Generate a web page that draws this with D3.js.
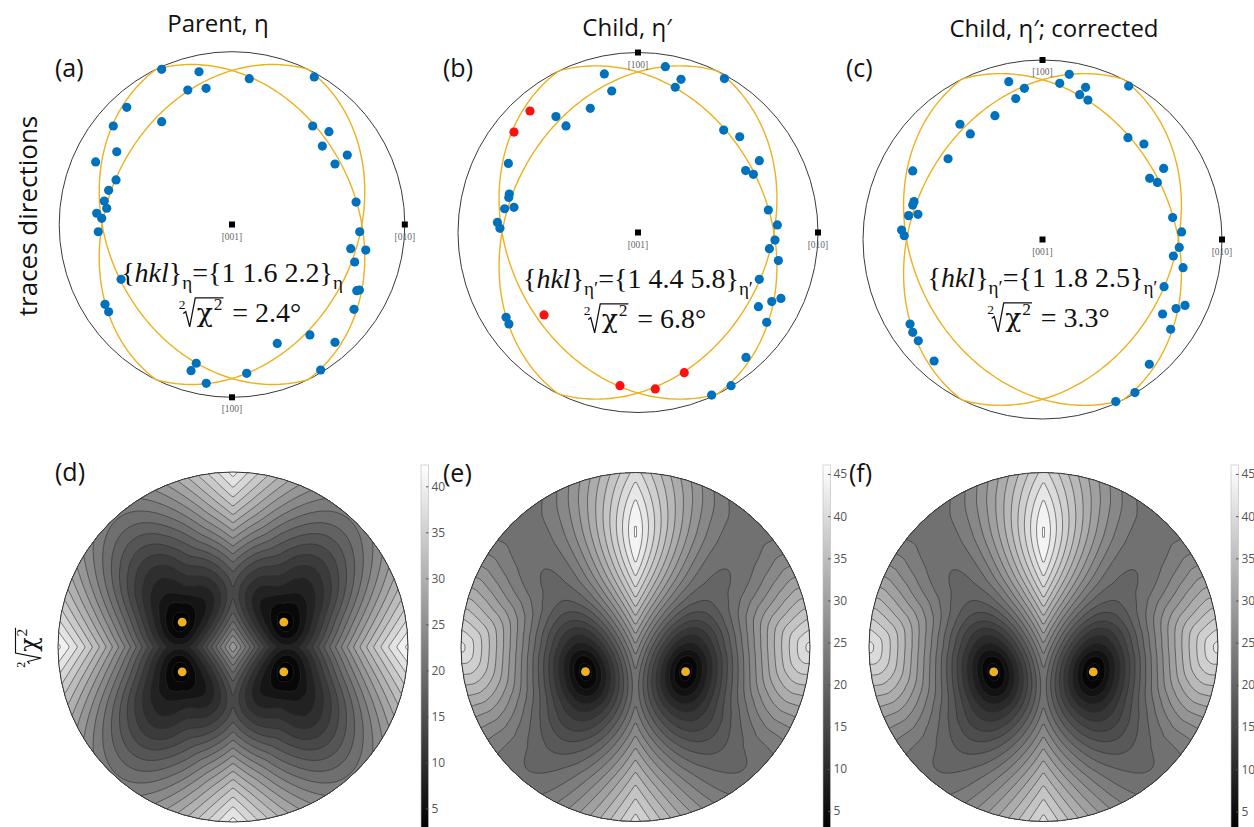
<!DOCTYPE html>
<html>
<head>
<meta charset="utf-8">
<script src="https://cdn.jsdelivr.net/npm/d3@7"></script>
<style>
  body { margin: 0; background: #fff; }
  text { white-space: pre; }
</style>
</head>
<body>
<div id="fig"></div>
<script>
//==========================================================
// data: trace directions
// each pair = position in the pole figure [screen right, screen down], unit circle
const parentTraces = [
  [-0.407,-0.898],[-0.191,-0.884],[0.100,-0.844],[0.476,-0.854],[-0.256,-0.778],[-0.150,-0.788],
  [-0.609,-0.678],[-0.407,-0.595],[-0.687,-0.570],[0.467,-0.570],[0.561,-0.537],[0.523,-0.454],
  [-0.667,-0.421],[0.667,-0.402],[-0.789,-0.362],[0.596,-0.350],[-0.671,-0.258],[-0.714,-0.198],
  [-0.739,-0.136],[-0.725,-0.094],[0.718,-0.130],[-0.783,-0.065],[-0.754,-0.036],[-0.774,0.042],
  [0.739,0.042],[0.687,0.140],[0.774,0.148],[0.710,0.217],[-0.642,0.317],[0.722,0.383],
  [0.737,0.379],[-0.735,0.462],[0.706,0.491],[-0.714,0.505],[0.451,0.639],[0.262,0.688],
  [0.596,0.682],[-0.207,0.803],[-0.237,0.846],[0.085,0.861],[0.513,0.842],[-0.149,0.919]
];
const childTraces = [
  [-0.187,-0.881],[-0.146,-0.786],[0.152,-0.921],[0.239,-0.851],[0.207,-0.807],[0.480,-0.855],
  [-0.265,-0.690],[-0.456,-0.644],[-0.400,-0.592],[0.476,-0.569],[0.565,-0.532],[0.674,-0.399],
  [0.598,-0.344],[0.641,-0.323],[-0.720,-0.384],[-0.715,-0.214],[-0.718,-0.195],[-0.741,-0.132],
  [-0.689,-0.140],[0.724,-0.125],[0.774,-0.042],[0.761,0.042],[0.730,0.090],[0.780,0.156],
  [-0.781,-0.056],[-0.767,-0.023],[0.674,0.260],[0.669,0.412],[0.743,0.384],[0.794,0.366],
  [0.715,0.499],[-0.733,0.471],[-0.717,0.508],[0.600,0.694],[0.517,0.851],[0.409,0.903]
];
// the red ones in (b)
const childOutliers = [
  [-0.600,-0.675],[-0.689,-0.558],[-0.522,0.458],[-0.100,0.851],[0.096,0.869],[0.257,0.779]
];
const correctedTraces = [
  [-0.188,-0.879],[-0.101,-0.842],[-0.149,-0.785],[0.096,-0.870],[0.149,-0.920],[0.240,-0.848],
  [0.207,-0.807],[0.253,-0.777],[0.480,-0.855],[-0.265,-0.690],[-0.460,-0.642],[-0.402,-0.588],
  [-0.526,-0.450],[0.476,-0.567],[0.565,-0.532],[0.675,-0.396],[0.597,-0.341],[0.640,-0.318],
  [-0.723,-0.382],[-0.716,-0.211],[-0.723,-0.192],[-0.746,-0.133],[-0.694,-0.140],[-0.785,-0.053],
  [-0.770,-0.021],[0.725,-0.122],[0.775,-0.042],[0.762,0.044],[0.729,0.092],[0.783,0.157],
  [0.677,0.263],[0.744,0.385],[0.794,0.367],[0.669,0.415],[0.714,0.500],[-0.738,0.471],
  [-0.723,0.517],[-0.692,0.564],[-0.604,0.677],[0.595,0.695],[0.515,0.853],[0.408,0.903]
];

const columnTitles = ["Parent, η", "Child, η′", "Child, η′; corrected"];
const planeFamilies = ["1 1.6 2.2", "1 4.4 5.8", "1 1.8 2.5"];
const phaseSubs = ["η", "η′", "η′"];
const chiTexts = ["2.4°", "6.8°", "3.3°"];
const panelLetters = ["(a)", "(b)", "(c)", "(d)", "(e)", "(f)"];
const cbarTicks = [5, 10, 15, 20, 25, 30, 35, 40, 45];
const contourStep = 2;

//==========================================================
// layout
const W = 1254, H = 827;
const topPanels = [
  {cx: 232, cy: 224.5, r: 172.8, flip: 1, tx: 218, ty: 32, lx: 55, ly: 77, f1: 282, f2: 322, fdx: 8},
  {cx: 638, cy: 232.5, r: 180, flip: -1, tx: 627, ty: 36, lx: 443, ly: 77, f1: 288, f2: 328, fdx: 7},
  {cx: 1042.5, cy: 239.5, r: 179.5, flip: -1, tx: 1054, ty: 37, lx: 846, ly: 77, f1: 287, f2: 327, fdx: 6}
];
const botPanels = [
  {cx: 233, cy: 647, r: 175, cbx: 421, lx: 55, ly: 481},
  {cx: 635.5, cy: 647, r: 174.5, cbx: 823, lx: 443, ly: 482},
  {cx: 1043.5, cy: 647, r: 174.5, cbx: 1231, lx: 849, ly: 482}
];
const cbarTop = 465, cbarBottom = 829, cbarW = 7.5;

const ORANGE = "#EDB120", BLUE = "#0072BD", RED = "#FF1010";
const SANS = "'Open Sans', sans-serif";
const SERIF = "'Liberation Serif', 'DejaVu Serif', serif";
const GREEK = "'DejaVu Serif', serif";

let svg = d3.select("#fig").append("svg")
  .attr("width", W).attr("height", H)
  .attr("font-family", SANS);

//==========================================================
// projection of the top pole figures (azimuthal, r = sin(A psi) / sin(A 90deg))
const A = 0.8;
const SA = Math.sin(A * Math.PI / 2);
function toVec(d) {
  let r = Math.hypot(d[0], d[1]);
  if (r === 0) return [0, 0, 1];
  let psi = Math.asin(Math.min(1, r * SA)) / A;
  let s = Math.sin(psi) / r;
  return [d[0] * s, d[1] * s, Math.cos(psi)];
}
function projectTop(t) {
  let psi = Math.acos(Math.min(1, Math.abs(t[2])));
  let h = Math.hypot(t[0], t[1]);
  if (h < 1e-12) return [0, 0];
  let r = Math.sin(A * psi) / SA;
  return [t[0] / h * r, t[1] / h * r];
}
// bottom maps: stereographic
function fromStereo(X, Y) {
  let r2 = X * X + Y * Y;
  return [2 * X / (1 + r2), 2 * Y / (1 + r2), (1 - r2) / (1 + r2)];
}

//==========================================================
// misfit of plane normal n against trace directions
const TO_DEG = 180 / Math.PI;
const refl4 = [[1, 1], [-1, 1], [1, -1], [-1, -1]];
const refl2 = [[1, 1], [-1, 1]];

function minDot(t, n, refl) {
  let m = 1;
  for (const r of refl) {
    let d = Math.abs(r[0] * t[0] * n[0] + r[1] * t[1] * n[1] + t[2] * n[2]);
    if (d < m) m = d;
  }
  return m;
}
function chi(n, T, refl) {
  let s = 0;
  for (const t of T) {
    let a = Math.asin(minDot(t, n, refl)) * TO_DEG;
    s += a * a;
  }
  return Math.sqrt(s / T.length);
}

const N = 210, L = 1.03;
const cell = 2 * L / N;
function gridField(T, refl) {
  let v = new Float64Array(N * N);
  for (let j = 0; j < N; j++) {
    let Y = -L + (j + 0.5) * cell;
    for (let i = 0; i < N; i++) {
      let X = -L + (i + 0.5) * cell;
      v[j * N + i] = chi(fromStereo(X, Y), T, refl);
    }
  }
  return v;
}
function gridStats(v) {
  let best = Infinity, bx = 0, by = 0, hi = -Infinity;
  for (let j = 0; j < N; j++) {
    let Y = -L + (j + 0.5) * cell;
    for (let i = 0; i < N; i++) {
      let X = -L + (i + 0.5) * cell;
      if (X * X + Y * Y > 1) continue;
      let f = v[j * N + i];
      if (f < best) { best = f; bx = X; by = Y; }
      if (f > hi) hi = f;
    }
  }
  return {X: bx, Y: by, lo: best, hi: hi};
}
function refine(T, refl, X, Y) {
  let step = cell, f = chi(fromStereo(X, Y), T, refl);
  while (step > 1e-5) {
    let moved = false;
    for (const [dx, dy] of [[1, 0], [-1, 0], [0, 1], [0, -1]]) {
      let g = chi(fromStereo(X + dx * step, Y + dy * step), T, refl);
      if (g < f) { f = g; X += dx * step; Y += dy * step; moved = true; break; }
    }
    if (!moved) step /= 2;
  }
  return {X: Math.abs(X), Y: Math.abs(Y), chi: f};
}

// parent: 4 variants; child: 2 variants, hemisphere of each trace picked from the first fit
function fitPanel(points, nVariants) {
  let T = points.map(toVec);
  let v = gridField(T, refl4);
  let st = gridStats(v);
  let pole = refine(T, refl4, st.X, st.Y);
  if (nVariants === 2) {
    let n = fromStereo(pole.X, pole.Y);
    T = T.map(t => {
      let alt = [t[0], t[1], -t[2]];
      return minDot(t, n, refl2) <= minDot(alt, n, refl2) ? t : alt;
    });
    v = gridField(T, refl2);
    st = gridStats(v);
    pole = refine(T, refl2, pole.X, pole.Y);
  }
  return {values: v, lo: st.lo, hi: st.hi, pole: pole, refl: nVariants === 2 ? refl2 : refl4};
}

const fits = [
  fitPanel(parentTraces, 4),
  fitPanel(childTraces.concat(childOutliers), 2),
  fitPanel(correctedTraces, 2)
];

//==========================================================
// formula writer (text pieces laid out one after another, centred on cx)
// a piece with root:true draws a radical sign whose bar covers the pieces marked over:true
function formulaRow(g, cx, baseline, parts) {
  let row = g.append("g");
  let x = 0, ox1 = null, rootAt = null;
  parts.forEach(pt => {
    if (pt.root) {
      rootAt = {x: x, s: pt.size};
      x += pt.size * 0.5;
      return;
    }
    let t = row.append("text")
      .attr("x", x)
      .attr("y", baseline + (pt.dy || 0))
      .attr("font-family", pt.font || SERIF)
      .attr("font-size", pt.size)
      .attr("font-style", pt.italic ? "italic" : null)
      .attr("fill", "#111")
      .text(pt.t);
    let w = t.node().getComputedTextLength();
    if (pt.over) ox1 = x + w;
    x += w + (pt.gap || 0);
  });
  if (rootAt) {
    let s = rootAt.s, x0 = rootAt.x, b = baseline;
    let top = b - 0.86 * s;
    row.append("path")
      .attr("d", `M${x0 + 0.02 * s},${b - 0.30 * s} L${x0 + 0.11 * s},${b - 0.37 * s}` +
                 ` L${x0 + 0.25 * s},${b + 0.17 * s} L${x0 + 0.45 * s},${top} L${ox1 + 1},${top}`)
      .attr("fill", "none").attr("stroke", "#111")
      .attr("stroke-width", Math.max(1, s * 0.045)).attr("stroke-linejoin", "miter");
  }
  row.attr("transform", `translate(${cx - x / 2},0)`);
  return row;
}

function rootParts(size, tail) {
  return [
    {t: "2", size: size * 0.48, dy: -size * 0.48, gap: -size * 0.1},
    {root: true, size: size},
    {t: "χ", size: size * 0.95, font: GREEK, over: true, gap: 1},
    {t: "2", size: size * 0.62, dy: -size * 0.42, over: true, gap: size * 0.1},
    {t: tail, size: size}
  ];
}

//==========================================================
// top row: trace directions with fitted plane traces
function greatCircle(n) {
  let a = [-n[1], n[0], 0];
  let an = Math.hypot(a[0], a[1]);
  a = [a[0] / an, a[1] / an, 0];
  let b = [n[1] * a[2] - n[2] * a[1], n[2] * a[0] - n[0] * a[2], n[0] * a[1] - n[1] * a[0]];
  return d3.range(0, 360.5, 1).map(deg => {
    let s = deg * Math.PI / 180;
    return projectTop([
      Math.cos(s) * a[0] + Math.sin(s) * b[0],
      Math.cos(s) * a[1] + Math.sin(s) * b[1],
      Math.cos(s) * a[2] + Math.sin(s) * b[2]
    ]);
  });
}

topPanels.forEach((p, k) => {
  let fit = fits[k];
  let x = d3.scaleLinear().domain([-1, 1]).range([p.cx - p.r, p.cx + p.r]);
  let y = d3.scaleLinear().domain([-1, 1]).range([p.cy - p.r, p.cy + p.r]);
  let g = svg.append("g");

  g.append("circle")
    .attr("cx", x(0)).attr("cy", y(0)).attr("r", p.r)
    .attr("fill", "none").attr("stroke", "#3a3a3a").attr("stroke-width", 1);

  let pole = fromStereo(fit.pole.X, fit.pole.Y);
  let line = d3.line().x(d => x(d[0])).y(d => y(d[1]));
  refl2.forEach(r => {
    g.append("path")
      .attr("d", line(greatCircle([r[0] * pole[0], r[1] * pole[1], pole[2]])))
      .attr("fill", "none").attr("stroke", ORANGE).attr("stroke-width", 1.4);
  });

  // crystal axes
  let axes = [
    {name: "[001]", u: 0, v: 0},
    {name: "[010]", u: 1, v: 0},
    {name: "[100]", u: 0, v: p.flip}
  ];
  g.selectAll(".ax").data(axes).enter().append("rect")
    .attr("x", d => x(d.u) - 3).attr("y", d => y(d.v) - 3)
    .attr("width", 6).attr("height", 6).attr("fill", "#000");
  g.selectAll(".axl").data(axes).enter().append("text")
    .attr("x", d => x(d.u)).attr("y", d => y(d.v) + 15)
    .attr("text-anchor", "middle")
    .attr("font-family", SERIF)
    .attr("font-size", 9.5).attr("fill", "#666")
    .text(d => d.name);

  let pts = k === 0 ? parentTraces : k === 1 ? childTraces : correctedTraces;
  g.selectAll(".dot").data(pts).enter().append("circle")
    .attr("cx", d => x(d[0])).attr("cy", d => y(d[1])).attr("r", 4.6)
    .attr("fill", BLUE);
  if (k === 1) {
    g.selectAll(".out").data(childOutliers).enter().append("circle")
      .attr("cx", d => x(d[0])).attr("cy", d => y(d[1])).attr("r", 4.6)
      .attr("fill", RED);
  }

  // labels
  svg.append("text").attr("x", p.tx).attr("y", p.ty).attr("text-anchor", "middle")
    .attr("font-size", 24).attr("fill", "#111").text(columnTitles[k]);
  svg.append("text").attr("x", p.lx).attr("y", p.ly)
    .attr("font-size", 25).attr("fill", "#111").text(panelLetters[k]);

  let size = 28;
  formulaRow(g, p.cx, p.f1, [
    {t: "{", size: size},
    {t: "hkl", size: size, italic: true},
    {t: "}", size: size},
    {t: phaseSubs[k], size: size * 0.68, dy: 7},
    {t: "={" + planeFamilies[k] + "}", size: size},
    {t: phaseSubs[k], size: size * 0.68, dy: 7}
  ]);
  formulaRow(g, p.cx + p.fdx, p.f2, rootParts(size, " = " + chiTexts[k]));
});

//==========================================================
// bottom row: misfit maps
botPanels.forEach((p, k) => {
  let fit = fits[k];
  let lo = fit.lo, hi = fit.hi;
  let gray = d3.scaleLinear().domain([lo, hi]).range(["#000", "#fff"]).clamp(true);
  let thresholds = d3.range(Math.ceil(lo / contourStep) * contourStep, hi, contourStep);
  let contours = d3.contours().size([N, N]).thresholds(thresholds)(Array.from(fit.values));
  let path = d3.geoPath(d3.geoIdentity().scale(cell * p.r).translate([p.cx - L * p.r, p.cy - L * p.r]));

  let clipId = "clip" + k;
  svg.append("clipPath").attr("id", clipId)
    .append("circle").attr("cx", p.cx).attr("cy", p.cy).attr("r", p.r);

  let g = svg.append("g").attr("clip-path", `url(#${clipId})`);
  g.append("circle").attr("cx", p.cx).attr("cy", p.cy).attr("r", p.r).attr("fill", gray(lo));
  g.selectAll("path").data(contours).enter().append("path")
    .attr("d", path)
    .attr("fill", d => gray(d.value))
    .attr("stroke", "#2e2e2e").attr("stroke-width", 0.7).attr("stroke-opacity", 0.85);

  svg.append("circle").attr("cx", p.cx).attr("cy", p.cy).attr("r", p.r)
    .attr("fill", "none").attr("stroke", "#333").attr("stroke-width", 1);

  // fitted poles
  let sx = d3.scaleLinear().domain([-1, 1]).range([p.cx - p.r, p.cx + p.r]);
  let sy = d3.scaleLinear().domain([-1, 1]).range([p.cy - p.r, p.cy + p.r]);
  let poles = fit.refl.map(r => [r[0] * fit.pole.X, r[1] * fit.pole.Y]);
  svg.selectAll(".pole" + k).data(poles).enter().append("circle")
    .attr("cx", d => sx(d[0])).attr("cy", d => sy(d[1])).attr("r", 4.4)
    .attr("fill", ORANGE);

  // colorbar
  let gradId = "grad" + k;
  let grad = svg.append("defs").append("linearGradient").attr("id", gradId)
    .attr("x1", 0).attr("y1", 1).attr("x2", 0).attr("y2", 0);
  grad.append("stop").attr("offset", "0%").attr("stop-color", "#000");
  grad.append("stop").attr("offset", "100%").attr("stop-color", "#fff");
  let cy = d3.scaleLinear().domain([lo, hi]).range([cbarBottom, cbarTop]);
  svg.append("rect").attr("x", p.cbx).attr("y", cbarTop)
    .attr("width", cbarW).attr("height", cbarBottom - cbarTop)
    .attr("fill", `url(#${gradId})`).attr("stroke", "#bbb").attr("stroke-width", 0.6);
  let axis = d3.axisRight(cy).tickValues(cbarTicks.filter(t => t >= lo && t <= hi))
    .tickSize(-2.5).tickPadding(3);
  let ax = svg.append("g").attr("transform", `translate(${p.cbx + cbarW},0)`).call(axis);
  ax.select(".domain").remove();
  ax.selectAll("line").attr("stroke", "#555");
  ax.selectAll("text").attr("font-size", 12).attr("fill", "#555").attr("font-family", SANS);

  svg.append("text").attr("x", p.lx).attr("y", p.ly)
    .attr("font-size", 25).attr("fill", "#111").text(panelLetters[3 + k]);
});

//==========================================================
// row titles
svg.append("text")
  .attr("transform", "translate(37,216) rotate(-90)")
  .attr("text-anchor", "middle").attr("font-size", 26).attr("fill", "#111")
  .text("traces directions");

let ylab = svg.append("g").attr("transform", "translate(37,647) rotate(-90)");
formulaRow(ylab, 0, 0, rootParts(25, ""));
</script>
</body>
</html>
